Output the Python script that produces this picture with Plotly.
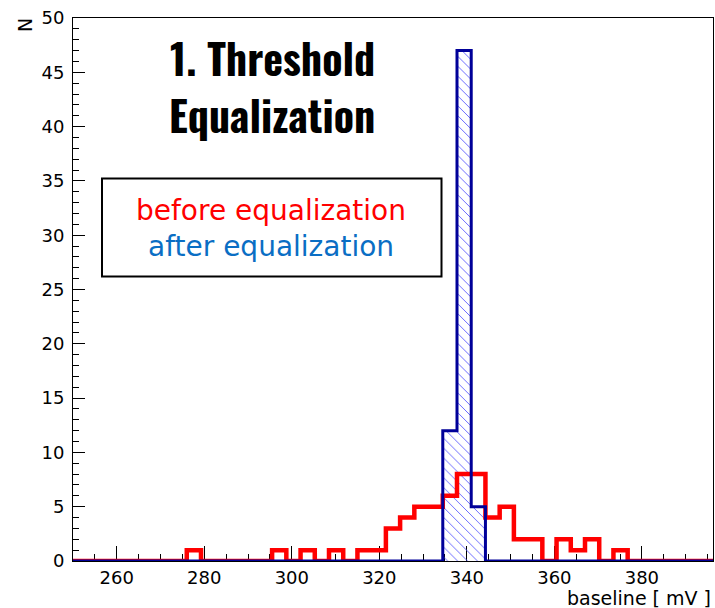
import plotly.graph_objects as go

# Histogram binning (mV)
BIN_LOW = 250.0
BIN_WIDTH = 3.25
N_BINS = 45

# Channel baselines, counts per bin
before_counts = [0, 0, 0, 0, 0, 0, 0, 0, 1, 0,
                 0, 0, 0, 0, 1, 0, 1, 0, 1, 0,
                 1, 1, 3, 4, 5, 5, 6, 8, 8, 4,
                 5, 2, 2, 0, 2, 1, 2, 0, 1, 0,
                 0, 0, 0, 0, 0]
after_counts = [0] * 26 + [12, 47, 5] + [0] * 16

x_ticks = [260, 280, 300, 320, 340, 360, 380]
y_ticks = [0, 5, 10, 15, 20, 25, 30, 35, 40, 45, 50]

edges = [BIN_LOW + BIN_WIDTH * k for k in range(N_BINS + 1)]
centers = [BIN_LOW + BIN_WIDTH * (k + 0.5) for k in range(N_BINS)]

W, H = 715, 608
L, R, T, B = 73, 2, 18, 47
PW, PH = W - L - R, H - T - B


def px(x):
    return (x - L) / PW


def py(y):
    return (H - B - y) / PH


RED = "#ff0000"
NAVY = "#000099"
HATCH = "#5050ff"
AFTER_TXT = "#0a6ec4"
TXT_FONT = "DejaVu Sans, Verdana, sans-serif"
TITLE_FONT = "Oswald, Liberation Sans Narrow, DejaVu Sans Condensed, sans-serif"

fig = go.Figure()

# hatched fill of the equalized distribution
fig.add_trace(go.Bar(
    x=centers, y=after_counts, width=BIN_WIDTH,
    marker=dict(color="rgba(0,0,0,0)", line=dict(width=0),
                pattern=dict(shape="\\", fgcolor=HATCH, size=7,
                             solidity=0.12, fillmode="replace")),
    showlegend=False, hoverinfo="skip",
))

# outline of the distribution before equalization
fig.add_trace(go.Scatter(
    x=edges, y=before_counts + [before_counts[-1]],
    mode="lines", line=dict(color=RED, width=4.5, shape="hv"),
    showlegend=False, hoverinfo="skip",
))

# outline of the distribution after equalization
fig.add_trace(go.Scatter(
    x=edges, y=after_counts + [after_counts[-1]],
    mode="lines", line=dict(color=NAVY, width=3, shape="hv"),
    showlegend=False, hoverinfo="skip",
))

axis_common = dict(
    showline=True, linecolor="black", linewidth=1, mirror=True,
    showgrid=False, zeroline=False, ticks="inside", tickcolor="black",
    tickwidth=1, layer="below traces",
    tickfont=dict(family=TXT_FONT, size=18, color="black"),
)

fig.update_xaxes(
    range=[BIN_LOW, BIN_LOW + BIN_WIDTH * N_BINS],
    tickvals=x_ticks, ticktext=[str(v) for v in x_ticks], ticklen=15,
    minor=dict(dtick=5, tick0=250, ticks="inside", ticklen=7,
               tickcolor="black", showgrid=False),
    **axis_common,
)
fig.update_yaxes(
    range=[0, 50],
    tickvals=y_ticks, ticktext=[str(v) for v in y_ticks], ticklen=12,
    minor=dict(dtick=1, tick0=0, ticks="inside", ticklen=6,
               tickcolor="black", showgrid=False),
    ticklabelstandoff=4,
    **axis_common,
)

annotations = [
    dict(text="1. Threshold", x=px(272), y=py(57), xanchor="center", yanchor="middle",
         font=dict(family=TITLE_FONT, size=42, color="black", weight="bold")),
    dict(text="Equalization", x=px(272), y=py(114), xanchor="center", yanchor="middle",
         font=dict(family=TITLE_FONT, size=42, color="black", weight="bold")),
    dict(text="before equalization", x=px(271), y=py(210), xanchor="center", yanchor="middle",
         font=dict(family=TXT_FONT, size=28, color=RED)),
    dict(text="after equalization", x=px(271), y=py(246.5), xanchor="center", yanchor="middle",
         font=dict(family=TXT_FONT, size=28, color=AFTER_TXT)),
    dict(text="baseline [ mV ]", x=1.0, y=py(598), xanchor="right", yanchor="middle",
         font=dict(family=TXT_FONT, size=19, color="black")),
    dict(text="N", x=px(25), y=py(25), xanchor="center", yanchor="middle", textangle=-90,
         font=dict(family=TXT_FONT, size=19, color="black")),
]
for a in annotations:
    a.update(xref="paper", yref="paper", showarrow=False)

fig.update_layout(
    width=W, height=H,
    margin=dict(l=L, r=R, t=T, b=B, pad=0),
    paper_bgcolor="white", plot_bgcolor="white",
    bargap=0, barmode="overlay", showlegend=False,
    annotations=annotations,
    shapes=[dict(type="rect", xref="paper", yref="paper",
                 x0=px(102), x1=px(441.5), y0=py(178.5), y1=py(276.5),
                 line=dict(color="black", width=2), fillcolor="white", layer="above")],
)

fig.write_html("out.html")
